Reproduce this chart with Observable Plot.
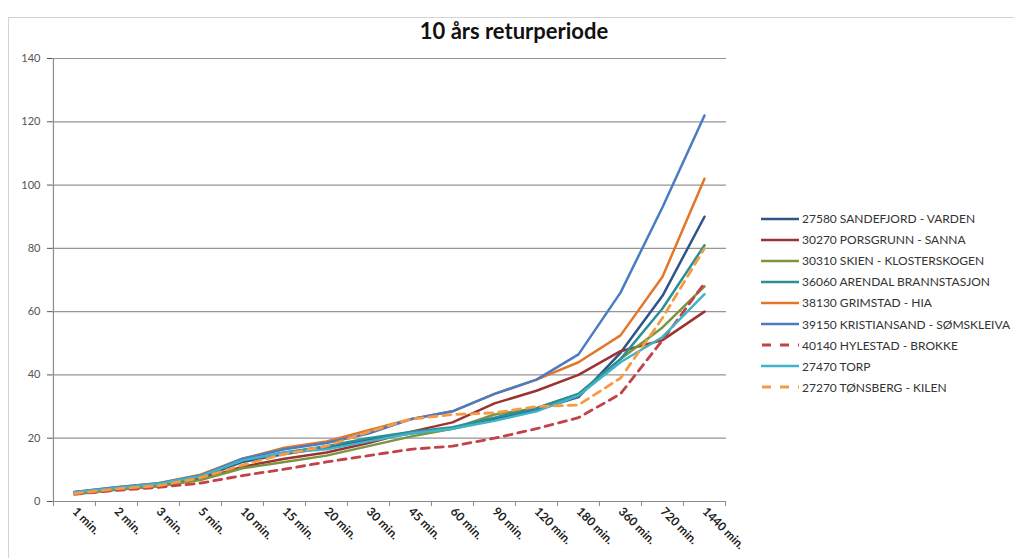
<!DOCTYPE html>
<html>
<head>
<meta charset="utf-8">
<script src="https://cdn.jsdelivr.net/npm/d3@7"></script>
<script src="https://cdn.jsdelivr.net/npm/@observablehq/plot@0.6"></script>
<style>
  html, body { margin: 0; padding: 0; background: #fff; }
  #wrap { position: relative; width: 1014px; height: 558px; overflow: hidden; font-family: Lato, "Open Sans", sans-serif; }
  #frame { position: absolute; left: 8px; top: 17px; width: 1010px; height: 545px; border: 1px solid #d4d4d4; box-sizing: border-box; }
  #title { position: absolute; left: 0; width: 1028px; top: 17px; text-align: center; font-weight: bold; font-size: 22px; color: #111; }
  #chart { position: absolute; left: 0; top: 0; }
  #legend { position: absolute; left: 760px; top: 208px; font-size: 12px; color: #333; }
  .row { height: 21.1px; display: flex; align-items: center; white-space: nowrap; }
  .row svg { margin-right: 2px; }
</style>
</head>
<body>
<div id="wrap">
  <div id="frame"></div>
  <div id="chart"></div>
  <div id="title">10 års returperiode</div>
  <div id="legend"></div>
</div>
<script>
// Categories (x axis)
const categories = ["1 min.", "2 min.", "3 min.", "5 min.", "10 min.", "15 min.", "20 min.", "30 min.", "45 min.", "60 min.", "90 min.", "120 min.", "180 min.", "360 min.", "720 min.", "1440 min."];
const yTicks = [0, 20, 40, 60, 80, 100, 120, 140];

// Series values (mm)
const sandefjord   = [2.8, 4.2, 5.3, 7.5, 12.5, 15.0, 17.0, 19.5, 21.5, 23.0, 26.0, 29.0, 33.0, 47.0, 65.0, 90.0];
const porsgrunn    = [2.5, 3.8, 5.0, 7.0, 11.0, 13.5, 15.5, 18.5, 22.0, 25.0, 31.0, 35.0, 40.0, 47.5, 51.0, 60.0];
const skien        = [2.3, 3.7, 4.8, 6.8, 10.5, 12.5, 14.5, 17.5, 20.5, 23.0, 27.5, 29.5, 34.0, 45.0, 55.0, 68.0];
const arendal      = [2.9, 4.3, 5.5, 8.0, 13.0, 15.5, 17.5, 20.0, 22.0, 23.5, 26.5, 29.5, 34.0, 45.0, 61.0, 81.0];
const grimstad     = [3.0, 4.5, 5.8, 8.5, 13.5, 17.0, 19.0, 22.5, 26.0, 28.5, 34.0, 38.5, 44.0, 52.5, 71.0, 102.0];
const kristiansand = [3.0, 4.5, 5.8, 8.2, 13.5, 16.5, 18.5, 21.5, 26.0, 28.5, 34.0, 38.5, 46.5, 66.0, 93.0, 122.0];
const hylestad     = [2.3, 3.5, 4.5, 5.8, 8.2, 10.2, 12.5, 14.5, 16.5, 17.5, 20.0, 23.0, 26.5, 34.0, 51.0, 69.0];
const torp         = [2.9, 4.3, 5.6, 8.0, 13.0, 15.5, 16.5, 19.0, 21.5, 23.0, 25.5, 28.5, 33.5, 44.0, 52.0, 65.5];
const tonsberg     = [2.5, 4.0, 5.0, 7.5, 11.5, 15.0, 17.5, 22.0, 26.0, 27.5, 28.0, 30.0, 30.5, 39.0, 58.0, 80.0];

const seriesNames = [
  "27580 SANDEFJORD - VARDEN",
  "30270 PORSGRUNN - SANNA",
  "30310 SKIEN - KLOSTERSKOGEN",
  "36060 ARENDAL BRANNSTASJON",
  "38130 GRIMSTAD - HIA",
  "39150 KRISTIANSAND - SØMSKLEIVA",
  "40140 HYLESTAD - BROKKE",
  "27470 TORP",
  "27270 TØNSBERG - KILEN"
];
const seriesValues = [sandefjord, porsgrunn, skien, arendal, grimstad, kristiansand, hylestad, torp, tonsberg];

// Styles
const colors = ["#2f5488", "#9b3333", "#7b9440", "#2c8f95", "#e2772a", "#4a7cc4", "#c0434a", "#3fb4c8", "#f59a45"];
const dashes = [null, null, null, null, null, null, "8,6", null, "8,6"];

const rows = seriesNames.flatMap((name, s) => seriesValues[s].map((v, i) => ({series: name, cat: categories[i], value: v})));

const W = 1014, H = 558, ML = 52, MR = 288, MT = 58, MB = 57;
const halfStep = (W - ML - MR) / categories.length / 2;

const lineMarks = seriesNames.map((name, s) =>
  Plot.line(rows.filter(d => d.series === name), {
    x: "cat", y: "value",
    stroke: colors[s],
    strokeWidth: dashes[s] ? 2.8 : 2.5,
    strokeDasharray: dashes[s] || undefined,
    strokeLinejoin: "round"
  })
);

const chart = Plot.plot({
  width: W, height: H,
  marginLeft: ML, marginRight: MR, marginTop: MT, marginBottom: MB,
  style: {background: "transparent", fontFamily: "Lato, 'Open Sans', sans-serif"},
  x: {type: "point", domain: categories, padding: 0.5},
  y: {domain: [0, 140]},
  marks: [
    Plot.gridY(yTicks, {stroke: "#959595", strokeOpacity: 1, strokeWidth: 1.2}),
    Plot.axisY({ticks: yTicks, label: null, tickSize: 5, tickPadding: 7, fontSize: 11, color: "#555"}),
    Plot.ruleX([categories[0]], {y1: 0, y2: 140, dx: -halfStep, stroke: "#8a8a8a", strokeWidth: 1.2}),
    Plot.ruleX(categories, {y1: 0, y2: -1.6, dx: -halfStep, stroke: "#8a8a8a"}),
    Plot.ruleX([categories[categories.length - 1]], {y1: 0, y2: -1.6, dx: halfStep, stroke: "#8a8a8a"}),
    Plot.ruleY([0], {stroke: "#8a8a8a", strokeWidth: 1.2}),
    Plot.axisX({label: null, tickSize: 0, tickPadding: 8, tickRotate: 45, fontSize: 12, fontWeight: "bold", color: "#222"}),
    ...lineMarks
  ]
});
document.getElementById("chart").appendChild(chart);

// Legend
const legend = document.getElementById("legend");
seriesNames.forEach((name, s) => {
  const row = document.createElement("div");
  row.className = "row";
  const dash = dashes[s] ? `stroke-dasharray="9,9" stroke-dashoffset="-1"` : "";
  row.innerHTML = `<svg width="40" height="8"><line x1="1" y1="4" x2="39" y2="4" stroke="${colors[s]}" stroke-width="${dashes[s] ? 2.8 : 2.6}" ${dash}/></svg><span>${name}</span>`;
  legend.appendChild(row);
});
</script>
</body>
</html>
